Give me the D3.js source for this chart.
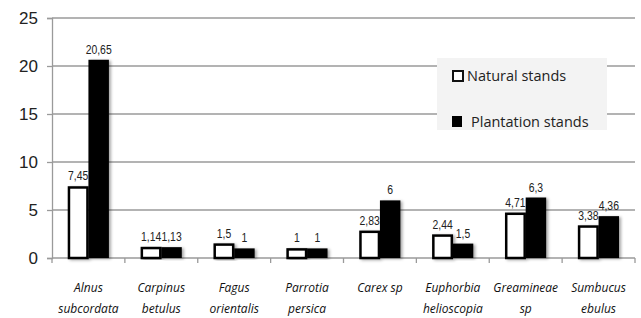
<!DOCTYPE html>
<html>
<head>
<meta charset="utf-8">
<script src="https://cdn.jsdelivr.net/npm/d3@7"></script>
<style>
  body { margin: 0; background: #fff; }
  svg { display: block; }
</style>
</head>
<body>
<script>
// species and the two series
var categories = [
  ['Alnus', 'subcordata'],
  ['Carpinus', 'betulus'],
  ['Fagus', 'orientalis'],
  ['Parrotia', 'persica'],
  ['Carex sp'],
  ['Euphorbia', 'helioscopia'],
  ['Greamineae', 'sp'],
  ['Sumbucus', 'ebulus']
];
var natural = [7.45, 1.14, 1.5, 1, 2.83, 2.44, 4.71, 3.38];
var plantation = [20.65, 1.13, 1, 1, 6, 1.5, 6.3, 4.36];
var seriesNames = ['Natural stands', 'Plantation stands'];
var yTicks = [0, 5, 10, 15, 20, 25];

var W = 641, H = 318;
var margin = {left: 52, right: 6, top: 18, bottom: 60};

var svg = d3.select(document.body).append('svg')
  .attr('width', W).attr('height', H);

var defs = svg.append('defs');
var f = defs.append('filter').attr('id', 'shadow')
  .attr('x', '-20%').attr('y', '-20%').attr('width', '160%').attr('height', '140%');
f.append('feDropShadow').attr('dx', 2).attr('dy', 1).attr('stdDeviation', 1.5)
  .attr('flood-color', '#000').attr('flood-opacity', 0.35);

var x = d3.scaleBand()
  .domain(d3.range(categories.length))
  .range([margin.left, W - margin.right]);

var xInner = d3.scaleBand()
  .domain([0, 1])
  .range([0, x.bandwidth()])
  .paddingInner(0)
  .paddingOuter(0.78);

var y = d3.scaleLinear().domain([0, 25]).range([H - margin.bottom, margin.top]);

// gridlines
svg.append('g').selectAll('line').data(yTicks.slice(1)).enter().append('line')
  .attr('x1', margin.left).attr('x2', W - margin.right)
  .attr('y1', function(d){ return y(d); }).attr('y2', function(d){ return y(d); })
  .attr('stroke', '#9a9a9a').attr('stroke-width', 1.3);

// y axis
var yAxis = svg.append('g')
  .attr('transform', 'translate(' + margin.left + ',0)')
  .call(d3.axisLeft(y).tickValues(yTicks).tickSize(5).tickPadding(9));
yAxis.select('.domain').attr('stroke', '#9a9a9a').attr('stroke-width', 1.3);
yAxis.selectAll('.tick line').attr('stroke', '#9a9a9a').attr('stroke-width', 1.3);
yAxis.selectAll('.tick text')
  .attr('font-family', 'Liberation Sans, Arial, sans-serif')
  .attr('font-size', 17).attr('fill', '#222');

// x axis
var xAxis = svg.append('g')
  .attr('transform', 'translate(0,' + y(0) + ')');
xAxis.append('line')
  .attr('x1', margin.left).attr('x2', W - margin.right)
  .attr('stroke', '#9a9a9a').attr('stroke-width', 1.3);
xAxis.selectAll('line.tk').data(d3.range(categories.length + 1)).enter().append('line')
  .attr('class', 'tk')
  .attr('x1', function(i){ return i < categories.length ? x(i) : W - margin.right; })
  .attr('x2', function(i){ return i < categories.length ? x(i) : W - margin.right; })
  .attr('y1', 0).attr('y2', 5)
  .attr('stroke', '#9a9a9a').attr('stroke-width', 1.3);

// category labels
var lab = svg.append('g').selectAll('text').data(categories).enter().append('text')
  .attr('text-anchor', 'middle')
  .attr('font-family', 'Open Sans, sans-serif')
  .attr('font-style', 'italic')
  .attr('font-size', 12)
  .attr('fill', '#111');
lab.each(function(d, i){
  var t = d3.select(this);
  d.forEach(function(s, j){
    t.append('tspan')
      .attr('x', x(i) + x.bandwidth() / 2)
      .attr('y', 292 + j * 21)
      .text(s);
  });
});

// bars
var bars = svg.append('g');
var both = [natural, plantation];
both.forEach(function(vals, s){
  bars.selectAll('rect.s' + s).data(vals).enter().append('rect')
    .attr('class', 's' + s)
    .attr('x', function(d, i){ return x(i) + xInner(s) + (s === 0 ? 1 : 0); })
    .attr('y', function(d){ return y(d) + (s === 0 ? 1 : 0); })
    .attr('width', xInner.bandwidth() - (s === 0 ? 2 : 0))
    .attr('height', function(d){ return y(0) - y(d) - (s === 0 ? 1 : 0); })
    .attr('fill', s === 0 ? '#fff' : '#000')
    .attr('stroke', '#000')
    .attr('stroke-width', s === 0 ? 2.5 : 0)
    .attr('filter', 'url(#shadow)');
});

// value labels (narrow face, squeezed so neighbours don't collide)
both.forEach(function(vals, s){
  svg.append('g').selectAll('text').data(vals).enter().append('text')
    .attr('transform', function(d, i){
      var cx = x(i) + xInner(s) + xInner.bandwidth() / 2;
      return 'translate(' + cx + ',' + (y(d) - 6) + ') scale(0.8,1)';
    })
    .attr('text-anchor', 'middle')
    .attr('font-family', 'Liberation Sans, Arial, sans-serif')
    .attr('font-size', 13)
    .attr('fill', '#222')
    .text(function(d){ return String(d).replace('.', ','); });
});

// legend
var lg = svg.append('g');
lg.append('rect')
  .attr('x', 437).attr('y', 58).attr('width', 170).attr('height', 72)
  .attr('fill', '#f3f3f3');
seriesNames.forEach(function(name, s){
  var cy = 76 + s * 46;
  lg.append('rect')
    .attr('x', 452 + (s === 0 ? 1 : 0)).attr('y', cy - 6 + (s === 0 ? 1 : 0))
    .attr('width', 10).attr('height', s === 0 ? 10 : 11)
    .attr('fill', s === 0 ? '#fff' : '#000')
    .attr('stroke', '#111').attr('stroke-width', s === 0 ? 2 : 0);
  lg.append('text')
    .attr('x', s === 0 ? 467 : 471).attr('y', cy + 5)
    .attr('font-family', 'Open Sans, sans-serif')
    .attr('font-size', 14.5)
    .attr('fill', '#222')
    .text(name);
});
</script>
</body>
</html>
